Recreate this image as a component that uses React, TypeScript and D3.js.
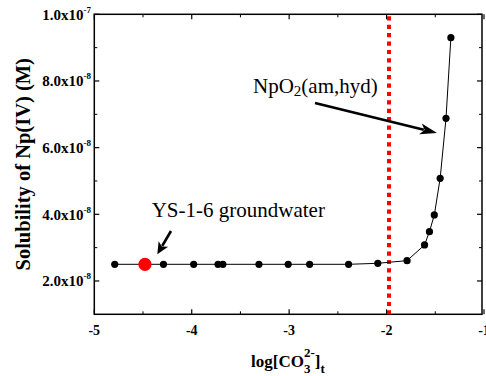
import React from "react";
import * as d3 from "d3";

const logCO3 = [-4.79, -4.48, -4.29, -3.98, -3.73, -3.68, -3.31, -3.01, -2.79, -2.39, -2.09, -1.79, -1.61, -1.56, -1.51, -1.45, -1.39, -1.34];
const solubility = [2.5e-8, 2.5e-8, 2.5e-8, 2.5e-8, 2.5e-8, 2.5e-8, 2.5e-8, 2.5e-8, 2.5e-8, 2.5e-8, 2.53e-8, 2.61e-8, 3.08e-8, 3.48e-8, 3.98e-8, 5.08e-8, 6.88e-8, 9.3e-8];
const highlightX = [-4.48];
const highlightY = [2.5e-8];
const xTicks = [-5, -4, -3, -2, -1];
const xMinor = [-4.5, -3.5, -2.5, -1.5];
const yTicks = [2e-8, 4e-8, 6e-8, 8e-8, 1e-7];
const yTickMant = ["2.0", "4.0", "6.0", "8.0", "1.0"];
const yTickExp = ["-8", "-8", "-8", "-8", "-7"];
const yMinor = [3e-8, 5e-8, 7e-8, 9e-8];
const refLineX = -1.975;

const W = 486, H = 376;
const L = 94.3, R = 482, T = 14.3, B = 314.3;

export default function App() {
  const x = d3.scaleLinear().domain([-5, -1]).range([L, 484]);
  const y = d3.scaleLinear().domain([1e-8, 1e-7]).range([B, T]);
  const pts = logCO3.map((v, i) => [v, solubility[i]] as [number, number]);
  const line = d3.line<[number, number]>().x(d => x(d[0])).y(d => y(d[1]));
  const serif = "'Liberation Serif', 'Times New Roman', serif";

  const arrow = (x1: number, y1: number, x2: number, y2: number, hl: number, hw: number) => {
    const a = Math.atan2(y2 - y1, x2 - x1);
    const bx = x2 - hl * Math.cos(a), by = y2 - hl * Math.sin(a);
    const px = -Math.sin(a) * hw, py = Math.cos(a) * hw;
    return (
      <g>
        <line x1={x1} y1={y1} x2={bx + hl * 0.2 * Math.cos(a)} y2={by + hl * 0.2 * Math.sin(a)} stroke="#000" strokeWidth={2.6} />
        <polygon points={`${x2},${y2} ${bx + px},${by + py} ${bx + hl * 0.25 * Math.cos(a)},${by + hl * 0.25 * Math.sin(a)} ${bx - px},${by - py}`} fill="#000" />
      </g>
    );
  };

  return (
    <svg width={W} height={H} style={{ position: "absolute", left: 0, top: 0, background: "#fff" }} fontFamily={serif}>
      <rect x={0} y={0} width={W} height={H} fill="#fff" />
      {xTicks.map((t, i) => (
        <g key={"xt" + i}>
          <line x1={x(t)} x2={x(t)} y1={B} y2={B - 5} stroke="#000" strokeWidth={1.2} />
          <line x1={x(t)} x2={x(t)} y1={T} y2={T + 5} stroke="#000" strokeWidth={1.2} />
          <text x={x(t)} y={334.5} textAnchor="middle" fontSize={14} fontWeight="bold">{t}</text>
        </g>
      ))}
      {xMinor.map((t, i) => (
        <g key={"xm" + i}>
          <line x1={x(t)} x2={x(t)} y1={B} y2={B - 3} stroke="#000" strokeWidth={1} />
          <line x1={x(t)} x2={x(t)} y1={T} y2={T + 3} stroke="#000" strokeWidth={1} />
        </g>
      ))}
      {yTicks.map((t, i) => (
        <g key={"yt" + i}>
          <line x1={L} x2={L + 5} y1={y(t)} y2={y(t)} stroke="#000" strokeWidth={1.2} />
          <line x1={R} x2={R - 5} y1={y(t)} y2={y(t)} stroke="#000" strokeWidth={1.2} />
          <text x={91} y={y(t) + 5.5} textAnchor="end" fontSize={15} fontWeight="bold">
            {yTickMant[i]}x10<tspan fontSize={9} dy={-7}>{yTickExp[i]}</tspan>
          </text>
        </g>
      ))}
      {yMinor.map((t, i) => (
        <g key={"ym" + i}>
          <line x1={L} x2={L + 3} y1={y(t)} y2={y(t)} stroke="#000" strokeWidth={1} />
          <line x1={R} x2={R - 3} y1={y(t)} y2={y(t)} stroke="#000" strokeWidth={1} />
        </g>
      ))}
      <rect x={L} y={T} width={R - L} height={B - T} fill="none" stroke="#000" strokeWidth={1.5} />
      <line x1={x(refLineX)} x2={x(refLineX)} y1={T + 2} y2={B} stroke="#ff0000" strokeWidth={4} strokeDasharray="4.2,4.2" />
      <path d={line(pts) || ""} fill="none" stroke="#000" strokeWidth={1} />
      {pts.map((d, i) => (
        <circle key={"p" + i} cx={x(d[0])} cy={y(d[1])} r={3.6} fill="#000" />
      ))}
      {highlightX.map((v, i) => (
        <circle key={"h" + i} cx={x(v)} cy={y(highlightY[i])} r={6.6} fill="#ff0000" />
      ))}
      <text x={253} y={93.3} fontSize={21}>NpO<tspan fontSize={15} dy={3}>2</tspan><tspan dy={-3}>(am,hyd)</tspan></text>
      {arrow(315, 103, 437, 133, 17, 5.5)}
      <text x={151.7} y={216.7} fontSize={21}>YS-1-6 groundwater</text>
      {arrow(171, 231, 157.3, 254.3, 12, 5.5)}
      <text fontSize={17} fontWeight="bold" x={251} y={367}>
        log[CO<tspan fontSize={13} dy={6}>3</tspan><tspan fontSize={13} dx={-6.5} dy={-16}>2-</tspan><tspan fontSize={17} dy={10}>]</tspan><tspan fontSize={13} dy={6}>t</tspan>
      </text>
      <text transform={`translate(30,${(T + B) / 2}) rotate(-90)`} textAnchor="middle" fontSize={20.5} fontWeight="bold">
        Solubility of Np(IV) (M)
      </text>
    </svg>
  );
}
